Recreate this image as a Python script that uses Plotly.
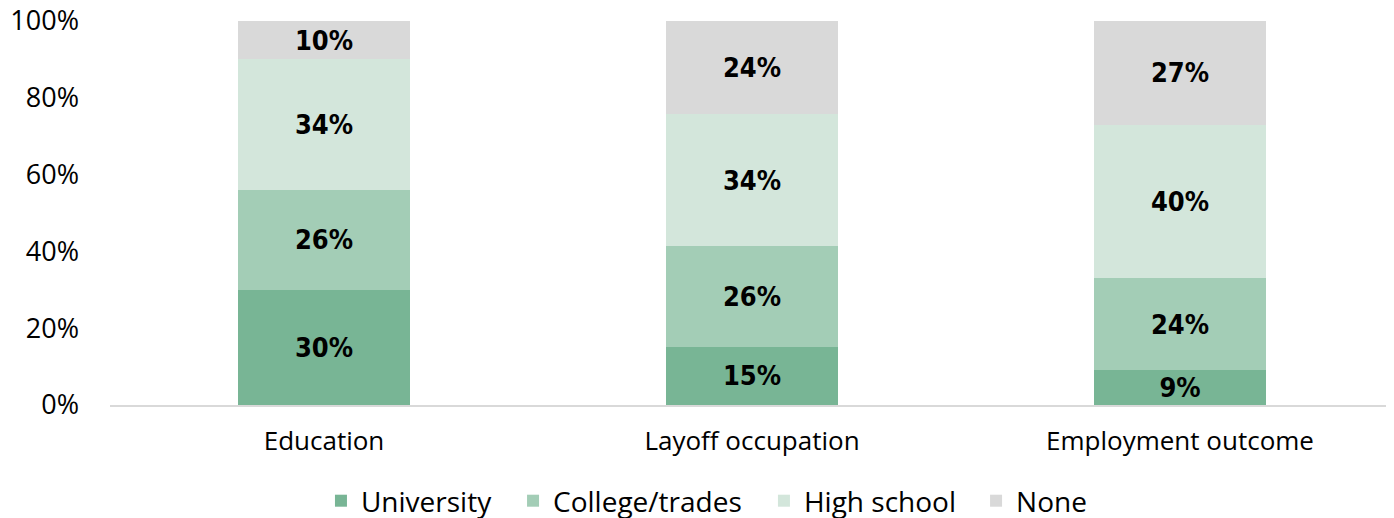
import plotly.graph_objects as go

categories = ["Education", "Layoff occupation", "Employment outcome"]
series_names = ["University", "College/trades", "High school", "None"]
university = [30, 15, 9]
college_trades = [26, 26, 24]
high_school = [34, 34, 40]
none = [10, 24, 27]
colors = ["#78b595", "#a3cdb6", "#d3e6db", "#d9d9d9"]
y_ticks = [0, 20, 40, 60, 80, 100]

legend_ids = ["legend", "legend2", "legend3", "legend4"]
legend_x = [0.1643, 0.3139, 0.5093, 0.6745]

fig = go.Figure()
for name, vals, col, lid in zip(series_names, [university, college_trades, high_school, none], colors, legend_ids):
    fig.add_trace(go.Bar(
        x=categories, y=vals, name=name, marker=dict(color=col, line=dict(width=0)),
        text=[f"{v}%" for v in vals], textposition="inside", insidetextanchor="middle",
        textfont=dict(family="DejaVu Sans Condensed, DejaVu Sans", size=27,
                      color="black", weight="bold"),
        width=0.4, legend=lid,
    ))

# page body has an 8px margin, so the figure is shrunk by that much
fig.update_layout(
    barmode="stack", barnorm="percent",
    width=1386, height=510,
    margin=dict(l=102, r=0, t=13, b=113, autoexpand=False),
    plot_bgcolor="white", paper_bgcolor="white",
    font=dict(family="Open Sans", color="black"),
    uniformtext=dict(minsize=27, mode="show"),
    showlegend=True,
)
# one legend per entry so the entries can be spaced like the original
for lid, lx in zip(legend_ids, legend_x):
    fig.update_layout({lid: dict(orientation="h", x=lx, xanchor="left", y=-0.25, yanchor="middle",
                                 font=dict(size=28), bgcolor="rgba(0,0,0,0)")})

fig.update_yaxes(range=[0, 100], tickmode="array", tickvals=y_ticks,
                 ticktext=[f"{t}%" for t in y_ticks], automargin=False,
                 showgrid=False, zeroline=False, tickfont=dict(size=27), ticks="",
                 ticklabelstandoff=30, ticklabeloverflow="allow")
fig.update_xaxes(showline=True, linecolor="#d9d9d9", linewidth=2, tickfont=dict(size=26),
                 ticks="", automargin=False, ticklabelstandoff=12)

fig.write_html("out.html")
